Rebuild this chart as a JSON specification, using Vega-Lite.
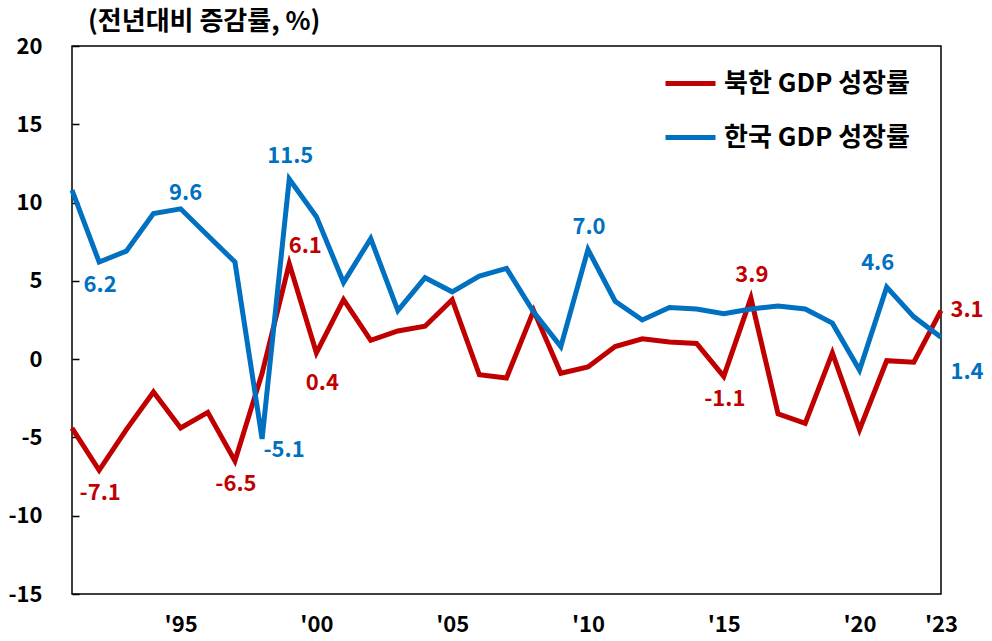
{
  "$schema": "https://vega.github.io/schema/vega-lite/v6.json",
  "width": 869,
  "height": 548,
  "autosize": {"type": "none"},
  "padding": {"left": 72, "top": 46, "right": 51, "bottom": 47},
  "background": "white",
  "config": {
    "font": "Noto Sans CJK KR",
    "view": {"stroke": "black", "strokeWidth": 1.5},
    "text": {"font": "Noto Sans CJK KR"}
  },
  "title": {
    "text": "(전년대비 증감률, %)",
    "anchor": "start",
    "frame": "group",
    "dx": 16,
    "offset": 0,
    "fontSize": 26,
    "fontWeight": "bold",
    "color": "black",
    "font": "Noto Sans CJK KR"
  },
  "datasets": {
    "gdp": [
      {"year": 1991, "series": "북한 GDP 성장률", "value": -4.4},
      {"year": 1992, "series": "북한 GDP 성장률", "value": -7.1},
      {"year": 1993, "series": "북한 GDP 성장률", "value": -4.5},
      {"year": 1994, "series": "북한 GDP 성장률", "value": -2.1},
      {"year": 1995, "series": "북한 GDP 성장률", "value": -4.4},
      {"year": 1996, "series": "북한 GDP 성장률", "value": -3.4},
      {"year": 1997, "series": "북한 GDP 성장률", "value": -6.5},
      {"year": 1998, "series": "북한 GDP 성장률", "value": -0.9},
      {"year": 1999, "series": "북한 GDP 성장률", "value": 6.1},
      {"year": 2000, "series": "북한 GDP 성장률", "value": 0.4},
      {"year": 2001, "series": "북한 GDP 성장률", "value": 3.8},
      {"year": 2002, "series": "북한 GDP 성장률", "value": 1.2},
      {"year": 2003, "series": "북한 GDP 성장률", "value": 1.8},
      {"year": 2004, "series": "북한 GDP 성장률", "value": 2.1},
      {"year": 2005, "series": "북한 GDP 성장률", "value": 3.8},
      {"year": 2006, "series": "북한 GDP 성장률", "value": -1.0},
      {"year": 2007, "series": "북한 GDP 성장률", "value": -1.2},
      {"year": 2008, "series": "북한 GDP 성장률", "value": 3.1},
      {"year": 2009, "series": "북한 GDP 성장률", "value": -0.9},
      {"year": 2010, "series": "북한 GDP 성장률", "value": -0.5},
      {"year": 2011, "series": "북한 GDP 성장률", "value": 0.8},
      {"year": 2012, "series": "북한 GDP 성장률", "value": 1.3},
      {"year": 2013, "series": "북한 GDP 성장률", "value": 1.1},
      {"year": 2014, "series": "북한 GDP 성장률", "value": 1.0},
      {"year": 2015, "series": "북한 GDP 성장률", "value": -1.1},
      {"year": 2016, "series": "북한 GDP 성장률", "value": 3.9},
      {"year": 2017, "series": "북한 GDP 성장률", "value": -3.5},
      {"year": 2018, "series": "북한 GDP 성장률", "value": -4.1},
      {"year": 2019, "series": "북한 GDP 성장률", "value": 0.4},
      {"year": 2020, "series": "북한 GDP 성장률", "value": -4.5},
      {"year": 2021, "series": "북한 GDP 성장률", "value": -0.1},
      {"year": 2022, "series": "북한 GDP 성장률", "value": -0.2},
      {"year": 2023, "series": "북한 GDP 성장률", "value": 3.1},
      {"year": 1991, "series": "한국 GDP 성장률", "value": 10.8},
      {"year": 1992, "series": "한국 GDP 성장률", "value": 6.2},
      {"year": 1993, "series": "한국 GDP 성장률", "value": 6.9},
      {"year": 1994, "series": "한국 GDP 성장률", "value": 9.3},
      {"year": 1995, "series": "한국 GDP 성장률", "value": 9.6},
      {"year": 1996, "series": "한국 GDP 성장률", "value": 7.9},
      {"year": 1997, "series": "한국 GDP 성장률", "value": 6.2},
      {"year": 1998, "series": "한국 GDP 성장률", "value": -5.1},
      {"year": 1999, "series": "한국 GDP 성장률", "value": 11.5},
      {"year": 2000, "series": "한국 GDP 성장률", "value": 9.1},
      {"year": 2001, "series": "한국 GDP 성장률", "value": 4.9},
      {"year": 2002, "series": "한국 GDP 성장률", "value": 7.7},
      {"year": 2003, "series": "한국 GDP 성장률", "value": 3.1},
      {"year": 2004, "series": "한국 GDP 성장률", "value": 5.2},
      {"year": 2005, "series": "한국 GDP 성장률", "value": 4.3},
      {"year": 2006, "series": "한국 GDP 성장률", "value": 5.3},
      {"year": 2007, "series": "한국 GDP 성장률", "value": 5.8},
      {"year": 2008, "series": "한국 GDP 성장률", "value": 3.0},
      {"year": 2009, "series": "한국 GDP 성장률", "value": 0.8},
      {"year": 2010, "series": "한국 GDP 성장률", "value": 7.0},
      {"year": 2011, "series": "한국 GDP 성장률", "value": 3.7},
      {"year": 2012, "series": "한국 GDP 성장률", "value": 2.5},
      {"year": 2013, "series": "한국 GDP 성장률", "value": 3.3},
      {"year": 2014, "series": "한국 GDP 성장률", "value": 3.2},
      {"year": 2015, "series": "한국 GDP 성장률", "value": 2.9},
      {"year": 2016, "series": "한국 GDP 성장률", "value": 3.2},
      {"year": 2017, "series": "한국 GDP 성장률", "value": 3.4},
      {"year": 2018, "series": "한국 GDP 성장률", "value": 3.2},
      {"year": 2019, "series": "한국 GDP 성장률", "value": 2.3},
      {"year": 2020, "series": "한국 GDP 성장률", "value": -0.7},
      {"year": 2021, "series": "한국 GDP 성장률", "value": 4.6},
      {"year": 2022, "series": "한국 GDP 성장률", "value": 2.7},
      {"year": 2023, "series": "한국 GDP 성장률", "value": 1.4}
    ],
    "tickYears": [
      {"year": 1996}, {"year": 2001}, {"year": 2006}, {"year": 2011}, {"year": 2016}, {"year": 2021}
    ]
  },
  "data": {"name": "gdp"},
  "encoding": {
    "x": {
      "field": "year",
      "type": "quantitative",
      "scale": {"domain": [1991, 2023], "nice": false, "zero": false},
      "axis": {
        "title": null,
        "values": [1995, 2000, 2005, 2010, 2015, 2020, 2023],
        "labelExpr": "\"'\" + substring(toString(datum.value), 2)",
        "grid": false,
        "domain": false,
        "ticks": false,
        "labelPadding": 20,
        "labelDx": 2,
        "labelFontSize": 22,
        "labelFontWeight": "bold",
        "labelColor": "black",
        "labelFlush": false
      }
    },
    "y": {
      "field": "value",
      "type": "quantitative",
      "scale": {"domain": [-15, 20], "nice": false, "zero": false},
      "axis": {
        "title": null,
        "values": [-15, -10, -5, 0, 5, 10, 15, 20],
        "labelExpr": "toString(datum.value)",
        "grid": false,
        "domain": false,
        "ticks": true,
        "tickSize": -7,
        "tickColor": "black",
        "tickWidth": 1.5,
        "labelPadding": 37,
        "labelFontSize": 22,
        "labelFontWeight": "bold",
        "labelColor": "black"
      }
    }
  },
  "layer": [
    {
      "data": {"values": [{}]},
      "mark": {"type": "rule", "color": "black", "strokeWidth": 1.5},
      "encoding": {"y": {"datum": 0}, "x": null}
    },
    {
      "data": {"name": "tickYears"},
      "mark": {"type": "tick", "orient": "vertical", "size": 15, "thickness": 1.5, "color": "black"},
      "encoding": {"x": {"field": "year", "type": "quantitative"}, "y": {"datum": 0}}
    },
    {
      "mark": {"type": "line", "strokeWidth": 5, "strokeJoin": "miter"},
      "encoding": {
        "color": {
          "field": "series",
          "type": "nominal",
          "scale": {"domain": ["북한 GDP 성장률", "한국 GDP 성장률"], "range": ["#C00000", "#0070C0"]},
          "legend": {
            "title": null,
            "orient": "none",
            "legendX": 591,
            "legendY": 10,
            "symbolType": "stroke",
            "symbolSize": 2500,
            "symbolStrokeWidth": 5,
            "labelFontSize": 26,
            "labelFontWeight": "bold",
            "labelColor": "black",
            "labelOffset": 6,
            "rowPadding": 13,
            "labelLimit": 400
          }
        }
      }
    },
    {
      "transform": [
        {"filter": "(datum.series === '한국 GDP 성장률' && (datum.year === 1999 || datum.year === 2010)) || (datum.series === '북한 GDP 성장률' && datum.year === 2016)"},
        {"calculate": "replace(format(datum.value, '.1f'), '\u2212', '-')", "as": "label"}
      ],
      "mark": {"type": "text", "fontSize": 22, "fontWeight": "bold", "baseline": "middle", "align": "center", "dx": 1, "dy": -23},
      "encoding": {"text": {"field": "label"}, "color": {"field": "series", "type": "nominal", "legend": null}}
    },
    {
      "transform": [
        {"filter": "datum.series === '한국 GDP 성장률' && datum.year === 1995"},
        {"calculate": "replace(format(datum.value, '.1f'), '\u2212', '-')", "as": "label"}
      ],
      "mark": {"type": "text", "fontSize": 22, "fontWeight": "bold", "baseline": "middle", "align": "center", "dx": 5, "dy": -16},
      "encoding": {"text": {"field": "label"}, "color": {"field": "series", "type": "nominal", "legend": null}}
    },
    {
      "transform": [
        {"filter": "datum.series === '한국 GDP 성장률' && datum.year === 2021"},
        {"calculate": "replace(format(datum.value, '.1f'), '\u2212', '-')", "as": "label"}
      ],
      "mark": {"type": "text", "fontSize": 22, "fontWeight": "bold", "baseline": "middle", "align": "center", "dx": -9, "dy": -24},
      "encoding": {"text": {"field": "label"}, "color": {"field": "series", "type": "nominal", "legend": null}}
    },
    {
      "transform": [
        {"filter": "(datum.series === '북한 GDP 성장률' && (datum.year === 1992 || datum.year === 1997 || datum.year === 2015)) || (datum.series === '한국 GDP 성장률' && datum.year === 1992)"},
        {"calculate": "replace(format(datum.value, '.1f'), '\u2212', '-')", "as": "label"}
      ],
      "mark": {"type": "text", "fontSize": 22, "fontWeight": "bold", "baseline": "middle", "align": "center", "dx": 1, "dy": 23},
      "encoding": {"text": {"field": "label"}, "color": {"field": "series", "type": "nominal", "legend": null}}
    },
    {
      "transform": [
        {"filter": "datum.series === '북한 GDP 성장률' && datum.year === 2000"},
        {"calculate": "replace(format(datum.value, '.1f'), '\u2212', '-')", "as": "label"}
      ],
      "mark": {"type": "text", "fontSize": 22, "fontWeight": "bold", "baseline": "middle", "align": "center", "dx": 6, "dy": 30},
      "encoding": {"text": {"field": "label"}, "color": {"field": "series", "type": "nominal", "legend": null}}
    },
    {
      "transform": [
        {"filter": "datum.series === '북한 GDP 성장률' && datum.year === 1999"},
        {"calculate": "replace(format(datum.value, '.1f'), '\u2212', '-')", "as": "label"}
      ],
      "mark": {"type": "text", "fontSize": 22, "fontWeight": "bold", "baseline": "middle", "align": "center", "dx": 16, "dy": -18},
      "encoding": {"text": {"field": "label"}, "color": {"field": "series", "type": "nominal", "legend": null}}
    },
    {
      "transform": [
        {"filter": "datum.series === '한국 GDP 성장률' && datum.year === 1998"},
        {"calculate": "replace(format(datum.value, '.1f'), '\u2212', '-')", "as": "label"}
      ],
      "mark": {"type": "text", "fontSize": 22, "fontWeight": "bold", "baseline": "middle", "align": "center", "dx": 22, "dy": 11},
      "encoding": {"text": {"field": "label"}, "color": {"field": "series", "type": "nominal", "legend": null}}
    },
    {
      "transform": [
        {"filter": "datum.series === '한국 GDP 성장률' && datum.year === 2023"},
        {"calculate": "replace(format(datum.value, '.1f'), '\u2212', '-')", "as": "label"}
      ],
      "mark": {"type": "text", "fontSize": 22, "fontWeight": "bold", "baseline": "middle", "align": "center", "dx": 26, "dy": 35},
      "encoding": {"text": {"field": "label"}, "color": {"field": "series", "type": "nominal", "legend": null}}
    },
    {
      "transform": [
        {"filter": "datum.series === '북한 GDP 성장률' && datum.year === 2023"},
        {"calculate": "replace(format(datum.value, '.1f'), '\u2212', '-')", "as": "label"}
      ],
      "mark": {"type": "text", "fontSize": 22, "fontWeight": "bold", "baseline": "middle", "align": "center", "dx": 26, "dy": -1},
      "encoding": {"text": {"field": "label"}, "color": {"field": "series", "type": "nominal", "legend": null}}
    }
  ]
}
